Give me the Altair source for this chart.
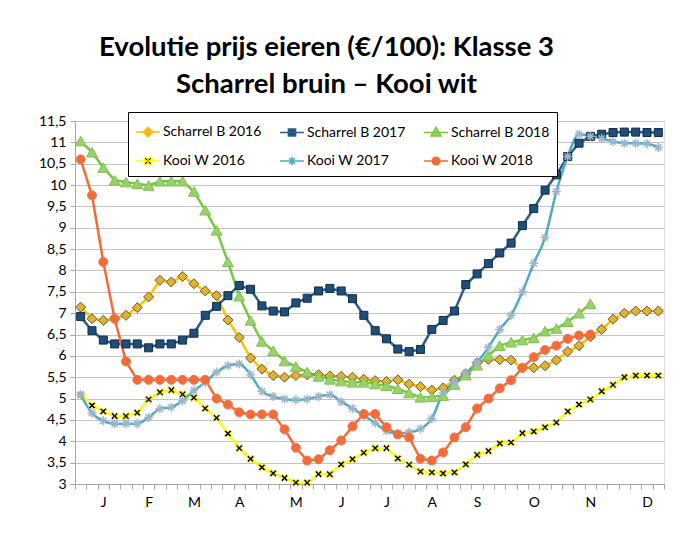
import altair as alt
import pandas as pd

# ---------------- data ----------------
series_names = ["Scharrel B 2016", "Scharrel B 2017", "Scharrel B 2018",
                "Kooi W 2016", "Kooi W 2017", "Kooi W 2018"]

scharrel_b_2016 = [7.14, 6.87, 6.83, 6.87, 6.95, 7.13, 7.38, 7.77, 7.73, 7.86, 7.69, 7.52, 7.41,
                   6.84, 6.43, 5.95, 5.69, 5.54, 5.50, 5.54, 5.56, 5.56, 5.53, 5.52, 5.50, 5.45,
                   5.42, 5.40, 5.44, 5.34, 5.28, 5.20, 5.25, 5.43, 5.58, 5.84, 5.92, 5.91, 5.90,
                   5.72, 5.72, 5.77, 5.90, 6.10, 6.24, 6.45, 6.62, 6.86, 7.00, 7.05, 7.05, 7.05]
scharrel_b_2017 = [6.92, 6.59, 6.37, 6.28, 6.28, 6.28, 6.19, 6.28, 6.28, 6.37, 6.53, 6.95, 7.16,
                   7.41, 7.65, 7.56, 7.17, 7.05, 7.03, 7.24, 7.35, 7.52, 7.58, 7.52, 7.34, 6.95,
                   6.59, 6.40, 6.16, 6.10, 6.15, 6.62, 6.83, 7.05, 7.67, 7.92, 8.16, 8.41, 8.64,
                   9.05, 9.45, 9.88, 10.24, 10.67, 10.98, 11.14, 11.19, 11.23, 11.24, 11.24, 11.23, 11.23]
scharrel_b_2018 = [11.03, 10.77, 10.41, 10.11, 10.07, 10.03, 9.99, 10.09, 10.09, 10.09, 9.85, 9.41, 8.94,
                   8.20, 7.40, 6.83, 6.34, 6.12, 5.88, 5.75, 5.62, 5.52, 5.45, 5.41, 5.38, 5.38,
                   5.34, 5.30, 5.23, 5.13, 5.03, 5.04, 5.07, 5.33, 5.55, 5.78, 6.01, 6.24, 6.32,
                   6.37, 6.42, 6.58, 6.64, 6.80, 7.00, 7.22, None, None, None, None, None, None]
kooi_w_2016 = [5.09, 4.84, 4.70, 4.59, 4.59, 4.67, 4.98, 5.15, 5.20, 5.10, 5.02, 4.77, 4.55,
               4.18, 3.84, 3.59, 3.39, 3.25, 3.14, 3.03, 3.03, 3.23, 3.23, 3.46, 3.58, 3.73,
               3.84, 3.84, 3.60, 3.45, 3.29, 3.27, 3.25, 3.27, 3.46, 3.68, 3.77, 3.95, 3.97,
               4.19, 4.23, 4.33, 4.44, 4.70, 4.86, 4.98, 5.17, 5.32, 5.50, 5.54, 5.54, 5.54]
kooi_w_2017 = [5.09, 4.66, 4.48, 4.41, 4.41, 4.41, 4.56, 4.76, 4.80, 4.95, 5.19, 5.38, 5.62,
               5.77, 5.81, 5.56, 5.17, 5.05, 4.99, 4.97, 4.99, 5.05, 5.09, 4.93, 4.77, 4.60,
               4.43, 4.24, 4.19, 4.21, 4.29, 4.53, 5.13, 5.38, 5.60, 5.85, 6.20, 6.62, 6.95,
               7.50, 8.17, 8.77, 9.85, 10.67, 11.19, 11.14, 11.09, 11.02, 10.98, 10.98, 10.97, 10.88]
kooi_w_2018 = [10.60, 9.76, 8.20, 6.87, 5.87, 5.44, 5.44, 5.44, 5.44, 5.44, 5.44, 5.44, 5.00,
               4.86, 4.68, 4.63, 4.63, 4.63, 4.28, 3.85, 3.55, 3.58, 3.79, 4.02, 4.35, 4.64,
               4.64, 4.33, 4.16, 4.09, 3.59, 3.55, 3.74, 4.09, 4.33, 4.77, 5.00, 5.24, 5.43,
               5.72, 5.97, 6.14, 6.24, 6.40, 6.48, 6.50, None, None, None, None, None, None]

month_labels = ["J", "F", "M", "A", "M", "J", "J", "A", "S", "O", "N", "D"]
month_label_weeks = [2, 6, 10, 14, 19, 23, 27, 31, 35, 40, 45, 50]
y_tick_values = [3 + 0.5 * k for k in range(18)]
n_weeks = 52

# ---------------- styles ----------------
line_colors = ["#FFC000", "#2E5C8A", "#77C93B", "#FFFF00", "#4BACC6", "#F26B3A"]
marker_fills = ["#DDB23A", "#1F4E79", "#98D36A", "#000000", "#9FB3C8", "#F26B3A"]
marker_strokes = ["#6E5A1E", "#102D4A", "#7FBF50", "#E8E000", "#9FB3C8", "#F0784A"]
marker_sizes = [100, 64, 121, 49, 81, 81]
marker_stroke_widths = [1, 1, 1, 1, 1.5, 1]
x_path = "M-1,-0.6L-0.6,-1L0,-0.4L0.6,-1L1,-0.6L0.4,0L1,0.6L0.6,1L0,0.4L-0.6,1L-1,0.6L-0.4,0Z"
star_path = "M-1,0L1,0M0,-1L0,1M-0.7,-0.7L0.7,0.7M-0.7,0.7L0.7,-0.7"
marker_shapes = ["diamond", "square", "triangle-up", x_path, star_path, "circle"]

legend_shapes = [
    "M-1,0H1M0,-0.4L0.4,0L0,0.4L-0.4,0Z",
    "M-1,0H1M-0.3,-0.3H0.3V0.3H-0.3Z",
    "M-1,0H1M0,-0.42L0.42,0.3H-0.42Z",
    "M-1,0H1M-0.35,-0.2L-0.2,-0.35L0,-0.15L0.2,-0.35L0.35,-0.2L0.15,0L0.35,0.2L0.2,0.35L0,0.15L-0.2,0.35L-0.35,0.2L-0.15,0Z",
    "M-1,0H1M0,-0.35V0.35M-0.25,-0.25L0.25,0.25M-0.25,0.25L0.25,-0.25",
    "M-1,0H1M0.32,0A0.32,0.32 0 1,1 -0.32,0A0.32,0.32 0 1,1 0.32,0Z",
]
legend_fills = ["#DDB23A", "#1F4E79", "#98D36A", "#000000", "#4BACC6", "#F26B3A"]

FONT = "Lato"

rows = []
for name, vals in zip(series_names, [scharrel_b_2016, scharrel_b_2017, scharrel_b_2018,
                                     kooi_w_2016, kooi_w_2017, kooi_w_2018]):
    for i, v in enumerate(vals):
        if v is not None:
            rows.append({"week": i + 0.5, "price": v, "series": name, "label": name})
df = pd.DataFrame(rows)

label_expr = "".join(f"datum.value == {w} ? '{m}' : " for w, m in zip(month_label_weeks, month_labels)) + "''"

x_enc = alt.X("week:Q",
              scale=alt.Scale(domain=[0, n_weeks], nice=False, zero=False),
              axis=alt.Axis(values=list(range(n_weeks + 1)), labelExpr=label_expr,
                            labelOffset=5.66, labelOverlap=False, labelBound=False, labelFlush=False,
                            grid=False, tickSize=5, title=None, labelFont=FONT, labelFontSize=14,
                            labelColor="black", labelPadding=6, domainColor="#A6A6A6",
                            tickColor="#A6A6A6"))
y_enc = alt.Y("price:Q",
              scale=alt.Scale(domain=[3, 11.5], nice=False, zero=False),
              axis=alt.Axis(values=y_tick_values,
                            labelExpr="replace(format(datum.value, '.1~f'), '.', ',')",
                            grid=True, gridColor="#C4C4C4", tickSize=5, title=None,
                            labelFont=FONT, labelFontSize=14, labelColor="black", labelPadding=4,
                            domainColor="#A6A6A6", tickColor="#A6A6A6", labelOverlap=False))

base = alt.Chart(df)

lines = base.transform_filter("datum.series != 'Kooi W 2017'").mark_line(strokeWidth=2.5).encode(
    x=x_enc, y=y_enc,
    color=alt.Color("series:N", scale=alt.Scale(domain=series_names, range=line_colors), legend=None),
)
smooth_line = base.transform_filter("datum.series == 'Kooi W 2017'").mark_line(
    strokeWidth=2.5, interpolate="monotone", color="#4BACC6").encode(x=x_enc, y=y_enc)

points = base.mark_point(filled=True, opacity=1).encode(
    x=x_enc, y=y_enc,
    fill=alt.Fill("series:N", scale=alt.Scale(domain=series_names, range=marker_fills), legend=None),
    stroke=alt.Stroke("series:N", scale=alt.Scale(domain=series_names, range=marker_strokes), legend=None),
    shape=alt.Shape("series:N", scale=alt.Scale(domain=series_names, range=marker_shapes), legend=None),
    size=alt.Size("series:N", scale=alt.Scale(type="ordinal", domain=series_names, range=marker_sizes), legend=None),
    strokeWidth=alt.StrokeWidth("series:N", scale=alt.Scale(type="ordinal", domain=series_names,
                                                            range=marker_stroke_widths), legend=None),
)

leg = alt.Legend(title=None, orient="none", legendX=53, legendY=-9, direction="horizontal", columns=3,
                 labelFont=FONT, labelFontSize=14, labelColor="black", symbolSize=576,
                 strokeColor="#000000", fillColor="white", padding=7, columnPadding=15,
                 rowPadding=8, labelOffset=2, labelLimit=300, symbolOpacity=1)

legend_layer = base.transform_filter("datum.price < 0").mark_point(filled=True, opacity=1, strokeWidth=2.5).encode(
    x=x_enc, y=y_enc,
    fill=alt.Fill("label:N", scale=alt.Scale(domain=series_names, range=legend_fills), legend=leg),
    stroke=alt.Stroke("label:N", scale=alt.Scale(domain=series_names, range=line_colors), legend=leg),
    shape=alt.Shape("label:N", scale=alt.Scale(domain=series_names, range=legend_shapes), legend=leg),
)

chart = alt.layer(lines, smooth_line, points, legend_layer).resolve_scale(
    fill="independent", stroke="independent", shape="independent"
).properties(
    width=589, height=363,
    autosize=alt.AutoSizeParams(type="none"),
    padding={"left": 67, "top": 113, "right": 22, "bottom": 48},
    title=alt.TitleParams(text=["Evolutie prijs eieren (€/100): Klasse 3", "Scharrel bruin – Kooi wit"],
                          font=FONT, fontSize=27.5, fontWeight="bold", color="black",
                          anchor="middle", dx=-43, offset=13, frame="group", lineHeight=37),
).configure_view(stroke=None).configure(background="white")

chart.save("out.html", embed_options={"renderer": "svg", "actions": False})
